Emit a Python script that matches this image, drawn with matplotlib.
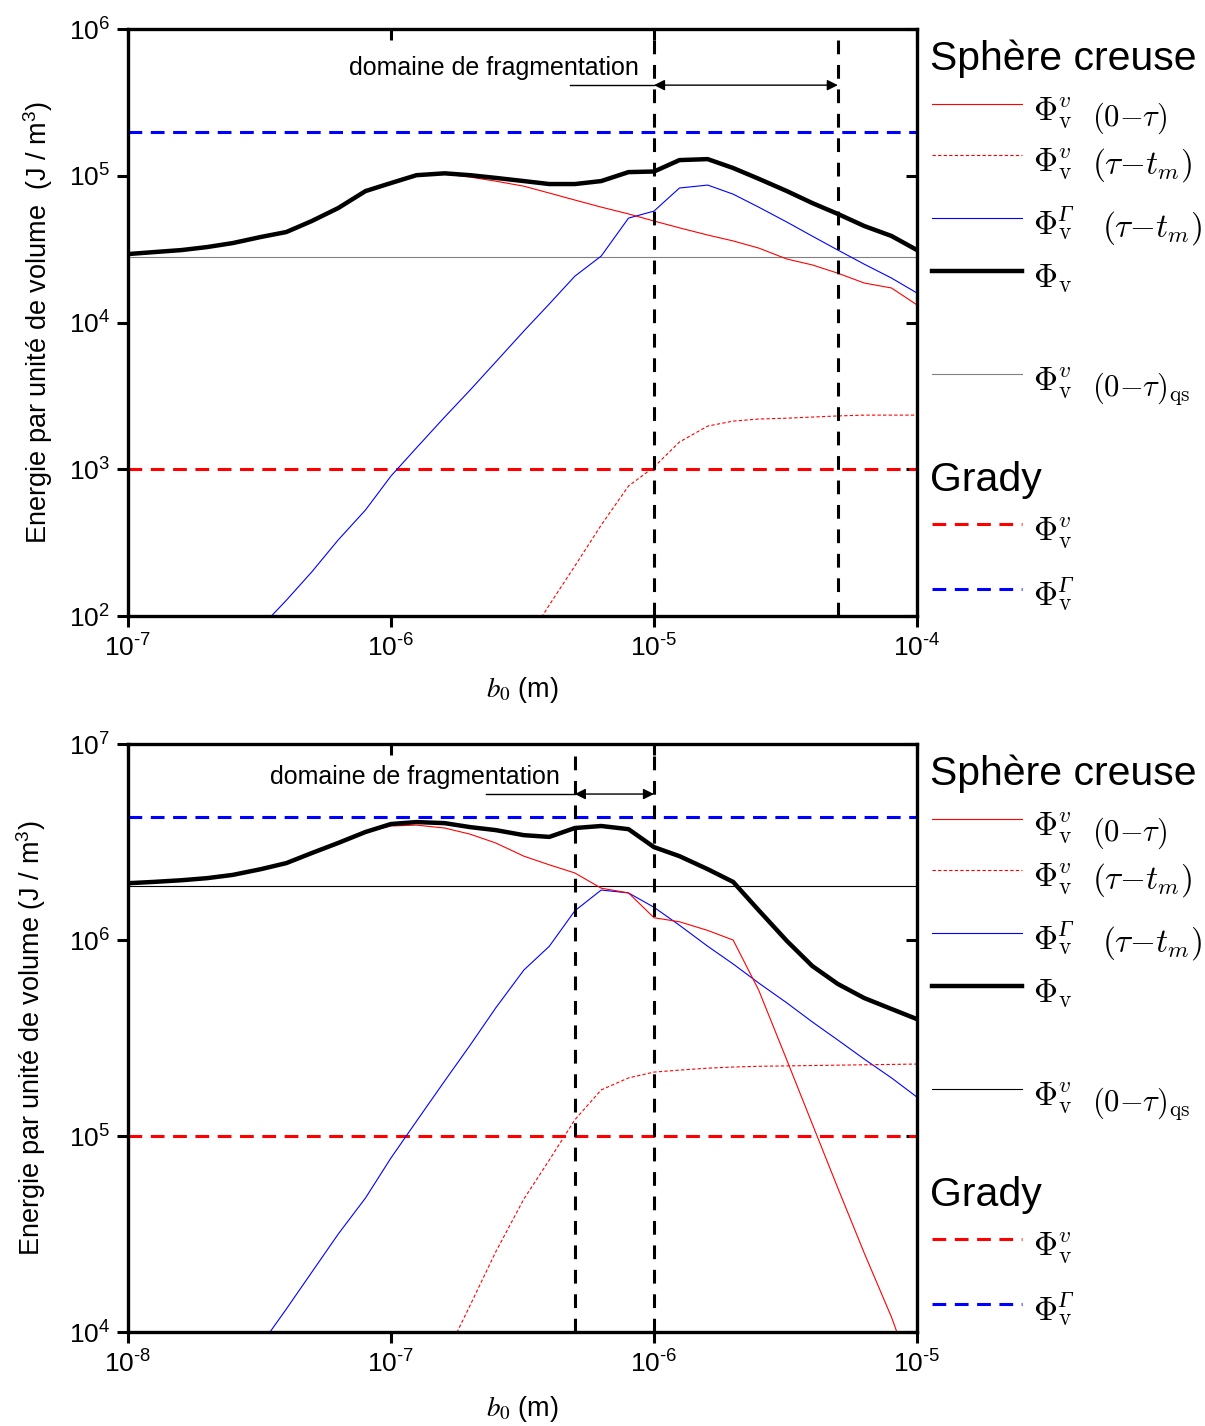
import numpy as np
import matplotlib
matplotlib.use("Agg")
from matplotlib import pyplot as plt
from matplotlib.ticker import LogLocator, NullLocator, FuncFormatter
from matplotlib.transforms import offset_copy

plt.rcParams['font.family'] = ['Liberation Sans', 'DejaVu Sans']
plt.rcParams['mathtext.fontset'] = 'custom'
plt.rcParams['mathtext.rm'] = 'Liberation Sans'
plt.rcParams['mathtext.it'] = 'Liberation Sans:italic'
plt.rcParams['mathtext.bf'] = 'Liberation Sans:bold'

nan = np.nan

# ---- top panel data (b0 from 1e-7 to 1e-4 m) ----
b0_top = [1e-7, 1.25e-7, 1.6e-7, 2e-7, 2.5e-7, 3.2e-7, 4e-7, 5e-7, 6.3e-7, 8e-7,
          1e-6, 1.25e-6, 1.6e-6, 2e-6, 2.5e-6, 3.2e-6, 4e-6, 5e-6, 6.3e-6, 8e-6,
          1e-5, 1.25e-5, 1.6e-5, 2e-5, 2.5e-5, 3.2e-5, 4e-5, 5e-5, 6.3e-5, 8e-5, 1e-4]
phi_tot_top = [2.93e4, 3.02e4, 3.12e4, 3.27e4, 3.48e4, 3.83e4, 4.14e4, 4.92e4, 6.03e4, 7.87e4,
               8.93e4, 1.01e5, 1.04e5, 1.01e5, 9.68e4, 9.21e4, 8.79e4, 8.79e4, 9.21e4, 1.06e5,
               1.07e5, 1.28e5, 1.30e5, 1.13e5, 9.55e4, 7.87e4, 6.52e4, 5.50e4, 4.55e4, 3.89e4, 3.12e4]
phi_v_0tau_top = [2.93e4, 3.02e4, 3.12e4, 3.27e4, 3.48e4, 3.83e4, 4.14e4, 4.92e4, 6.03e4, 7.87e4,
                  8.93e4, 1.01e5, 1.03e5, 9.8e4, 9.2e4, 8.5e4, 7.63e4, 6.84e4, 6.12e4, 5.50e4,
                  4.92e4, 4.42e4, 3.95e4, 3.6e4, 3.22e4, 2.71e4, 2.47e4, 2.17e4, 1.86e4, 1.72e4, 1.32e4]
phi_v_tautm_top = [nan, nan, nan, nan, nan, nan, nan, nan, nan, nan,
                   nan, nan, nan, nan, nan, 63, 119, 219, 417, 769,
                   1036, 1535, 1970, 2130, 2200, 2230, 2270, 2310, 2340, 2340, 2340]
phi_g_tautm_top = [nan, nan, nan, nan, nan, 84, 128, 200, 330, 528,
                   900, 1400, 2270, 3470, 5380, 8750, 1.34e4, 2.07e4, 2.84e4, 5.15e4,
                   5.75e4, 8.26e4, 8.65e4, 7.5e4, 6.12e4, 4.84e4, 3.88e4, 3.12e4, 2.5e4, 2.01e4, 1.59e4]
qs_top = 2.8e4
grady_v_top = 1e3
grady_g_top = 2e5
frag_top = (1e-5, 5e-5)

# ---- bottom panel data (b0 from 1e-8 to 1e-5 m) ----
b0_bot = [1e-8, 1.25e-8, 1.6e-8, 2e-8, 2.5e-8, 3.2e-8, 4e-8, 5e-8, 6.3e-8, 8e-8,
          1e-7, 1.25e-7, 1.6e-7, 2e-7, 2.5e-7, 3.2e-7, 4e-7, 5e-7, 6.3e-7, 8e-7,
          1e-6, 1.25e-6, 1.6e-6, 2e-6, 2.5e-6, 3.2e-6, 4e-6, 5e-6, 6.3e-6, 8e-6, 1e-5]
phi_tot_bot = [1.95e6, 1.98e6, 2.02e6, 2.07e6, 2.15e6, 2.30e6, 2.47e6, 2.78e6, 3.13e6, 3.56e6,
               3.91e6, 4.0e6, 3.95e6, 3.77e6, 3.64e6, 3.43e6, 3.36e6, 3.73e6, 3.82e6, 3.68e6,
               2.98e6, 2.68e6, 2.30e6, 1.98e6, 1.42e6, 9.9e5, 7.37e5, 5.97e5, 5.06e5, 4.45e5, 3.95e5]
phi_v_0tau_bot = [1.95e6, 1.98e6, 2.02e6, 2.07e6, 2.15e6, 2.30e6, 2.47e6, 2.78e6, 3.13e6, 3.56e6,
                  3.82e6, 3.86e6, 3.73e6, 3.47e6, 3.13e6, 2.68e6, 2.42e6, 2.20e6, 1.84e6, 1.74e6,
                  1.30e6, 1.24e6, 1.12e6, 1.0e6, 5.56e5, 2.44e5, 1.15e5, 5.43e4, 2.53e4, 1.19e4, 5.2e3]
phi_v_tautm_bot = [nan, nan, nan, nan, nan, nan, nan, nan, nan, nan,
                   nan, nan, 7.4e3, 1.37e4, 2.56e4, 4.77e4, 7.55e4, 1.21e5, 1.72e5, 1.98e5,
                   2.12e5, 2.17e5, 2.22e5, 2.25e5, 2.27e5, 2.28e5, 2.29e5, 2.30e5, 2.31e5, 2.32e5, 2.33e5]
phi_g_tautm_bot = [nan, nan, nan, nan, nan, 8.6e3, 1.31e4, 2.02e4, 3.16e4, 4.83e4,
                   7.73e4, 1.19e5, 1.91e5, 2.91e5, 4.5e5, 7.03e5, 9.3e5, 1.41e6, 1.80e6, 1.74e6,
                   1.47e6, 1.19e6, 9.3e5, 7.55e5, 6.04e5, 4.78e5, 3.82e5, 3.09e5, 2.47e5, 1.98e5, 1.58e5]
qs_bot = 1.89e6
grady_v_bot = 1e5
grady_g_bot = 4.25e6
frag_bot = (5e-7, 1e-6)

fig = plt.figure(figsize=(12.05, 14.26), dpi=100)
ax1 = fig.add_axes([0.1062, 0.568, 0.6548, 0.4116])
ax2 = fig.add_axes([0.1062, 0.0659, 0.6548, 0.4123])


def pow10(v, pos):
    e = int(round(np.log10(v)))
    return r'$\mathdefault{10^{%s}}$' % str(e).replace('-', '\u2010')


def draw_panel(ax, x, tot, v0, vt, gt, qs, qs_color, gv, gg, frag, xlim, ylim,
               arrow_y, ext_x, text_xy, ylabel, ypad, xpad):
    ax.set_xscale('log')
    ax.set_yscale('log')
    ax.axhline(gg, color='#0000ff', lw=2.2, dashes=(4.5, 2.8))
    ax.axhline(gv, color='#ff0000', lw=2.2, dashes=(4.5, 2.8))
    ax.axhline(qs, color=qs_color, lw=0.8)
    ax.plot(x, gt, color='#0000ff', lw=0.8)
    ax.plot(x, vt, color='#ff0000', lw=0.8, dashes=(3, 2))
    ax.plot(x, v0, color='#ff0000', lw=0.8)
    ax.plot(x, tot, color='black', lw=3.2)
    for xf in frag:
        ax.axvline(xf, color='black', lw=2.2, dashes=(4.5, 3.5))
    ax.annotate('', xy=(frag[1], arrow_y), xytext=(frag[0], arrow_y),
                arrowprops=dict(arrowstyle='<|-|>', color='black', lw=1,
                                mutation_scale=16, shrinkA=0, shrinkB=0))
    ax.plot([ext_x, frag[0]], [arrow_y, arrow_y], color='black', lw=1)
    ax.text(text_xy[0], text_xy[1], 'domaine de fragmentation', fontsize=18,
            ha='center', va='center')

    ax.set_xlim(*xlim)
    ax.set_ylim(*ylim)
    ax.xaxis.set_major_locator(LogLocator(base=10, numticks=10))
    ax.yaxis.set_major_locator(LogLocator(base=10, numticks=10))
    ax.xaxis.set_minor_locator(NullLocator())
    ax.yaxis.set_minor_locator(NullLocator())
    ax.xaxis.set_major_formatter(FuncFormatter(pow10))
    ax.yaxis.set_major_formatter(FuncFormatter(pow10))
    for s in ax.spines.values():
        s.set_linewidth(2.4)
    ax.tick_params(which='major', direction='out', length=8, width=2.2,
                   labelsize=19, pad=5)
    ax.tick_params(which='major', top=True, right=True)
    for t in ax.xaxis.get_major_ticks():
        t.tick2line.set_marker(3)  # inward on top
    for t in ax.yaxis.get_major_ticks():
        t.tick2line.set_marker(0)  # inward on right
    ax.set_ylabel(ylabel, fontsize=19.5, labelpad=ypad)
    ax.set_xlabel(r'$b_{\mathit{0}}$ (m)', fontsize=19.5, math_fontfamily='stix',
                  labelpad=xpad)


def draw_legend(ax, qs_color):
    fig = ax.figure
    h = ax.get_position().height * 14.26 * 100
    def fy(off):
        return 1 - off / h
    lx0, lx1, tx = 1.019, 1.133, 1.147
    ax.text(1.0165, fy(41), 'Sphère creuse', fontsize=29.5, ha='left',
            va='baseline', transform=ax.transAxes)
    ax.text(1.0165, fy(462), 'Grady', fontsize=29.5, ha='left',
            va='baseline', transform=ax.transAxes)
    # (offset px, line style, head, tail, tail size, tail dy (pt), italic Gamma?)
    entries = [
        (75, dict(color='#ff0000', lw=0.8), r'$\Phi^{v}_{\mathrm{v}}$',
         r'$(0{-}\tau)$', 22, -4.0, False),
        (126, dict(color='#ff0000', lw=0.8, dashes=(3, 2)), r'$\Phi^{v}_{\mathrm{v}}$',
         r'$(\tau{-}t_m)$', 24, -2.0, False),
        (189, dict(color='#0000ff', lw=0.8), r'$\Phi_{\mathrm{v}}$',
         r'$(\tau{-}t_m)$', 24, -2.0, True),
        (242, dict(color='black', lw=3.2), r'$\Phi_{\mathrm{v}}$', None, 0, 0, False),
        (345, dict(color=qs_color, lw=0.8), r'$\Phi^{v}_{\mathrm{v}}$',
         r'$(0{-}\tau)_{\mathrm{qs}}$', 22, -4.0, False),
        (495, dict(color='#ff0000', lw=2.2, dashes=(4.5, 2.8)), r'$\Phi^{v}_{\mathrm{v}}$',
         None, 0, 0, False),
        (560, dict(color='#0000ff', lw=2.2, dashes=(4.5, 2.8)), r'$\Phi_{\mathrm{v}}$',
         None, 0, 0, True),
    ]
    for off, style, head, tail, tsize, tdy, gamma in entries:
        ax.plot([lx0, lx1], [fy(off), fy(off)], transform=ax.transAxes,
                clip_on=False, **style)
        ax.text(tx, fy(off + 16), head, fontsize=24, ha='left', va='baseline',
                transform=ax.transAxes, math_fontfamily='cm')
        if gamma:
            tr = offset_copy(ax.transAxes, fig=fig, x=17.8, y=9.5, units='points')
            ax.text(tx, fy(off + 16), 'Γ', fontsize=17, ha='left', va='baseline',
                    family='Liberation Serif', style='italic', transform=tr)
        if tail:
            dx = 50.0 if gamma else 42.5
            tr = offset_copy(ax.transAxes, fig=fig, x=dx, y=tdy, units='points')
            ax.text(tx, fy(off + 16), tail, fontsize=tsize, ha='left',
                    va='baseline', transform=tr, math_fontfamily='cm')


draw_panel(ax1, b0_top, phi_tot_top, phi_v_0tau_top, phi_v_tautm_top, phi_g_tautm_top,
           qs_top, '#808080', grady_v_top, grady_g_top, frag_top,
           (1e-7, 1e-4), (1e2, 1e6), 4.15e5, 4.8e-6, (2.47e-6, 5.4e5),
           r'Energie par unité de volume  (J / m$^{3}$)', 9.8, 9.8)
draw_panel(ax2, b0_bot, phi_tot_bot, phi_v_0tau_bot, phi_v_tautm_bot, phi_g_tautm_bot,
           qs_bot, 'black', grady_v_bot, grady_g_bot, frag_bot,
           (1e-8, 1e-5), (1e4, 1e7), 5.56e6, 2.3e-7, (1.23e-7, 6.8e6),
           r'Energie par unité de volume (J / m$^{3}$)', 14.8, 12)
draw_legend(ax1, '#808080')
draw_legend(ax2, 'black')

fig.savefig('out.png', dpi=100)
